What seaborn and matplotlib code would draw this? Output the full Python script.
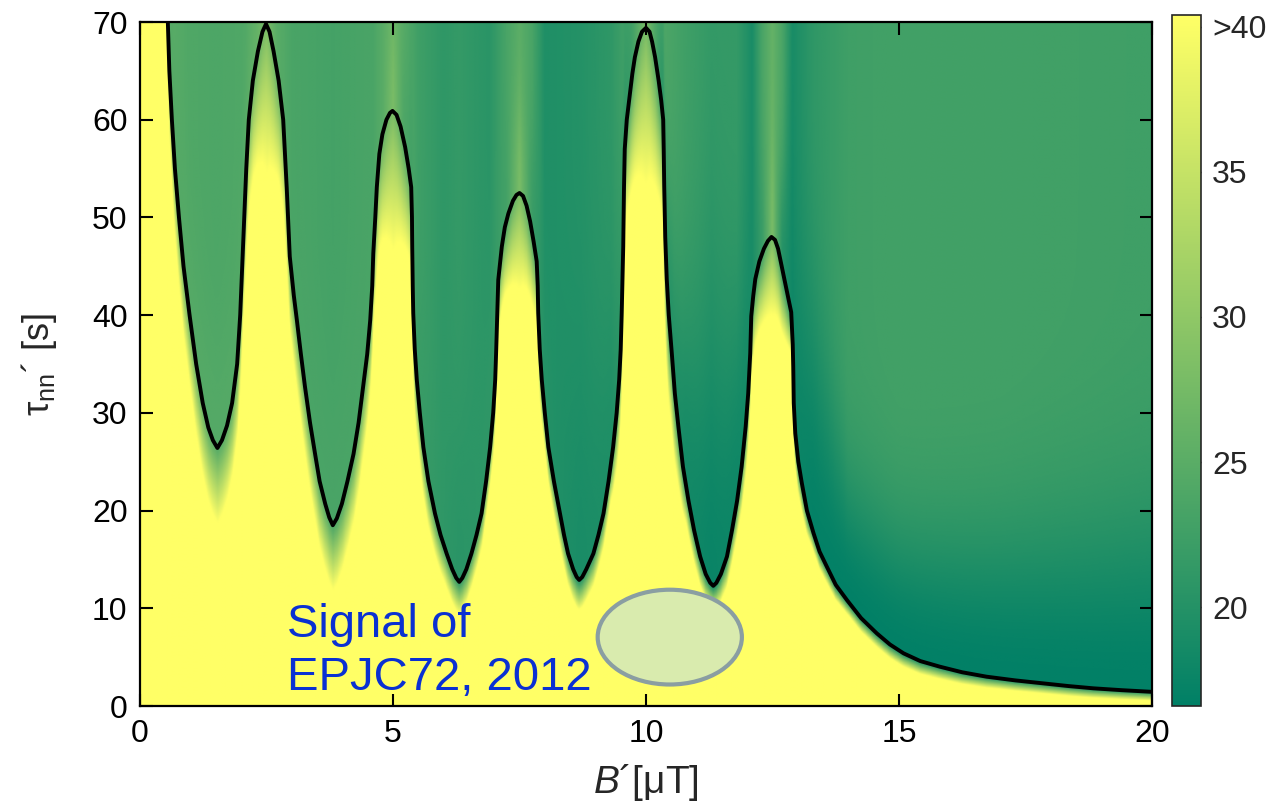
import numpy as np
import matplotlib
matplotlib.use("Agg")
import matplotlib.pyplot as plt
from matplotlib.patches import Ellipse
import seaborn as sns

# %%
# black contour line (B' in uT, tau in s)
edge_b = [0.40, 0.50, 0.55, 0.58, 0.63, 0.69, 0.77, 0.86, 0.98, 1.11,
          1.24, 1.35, 1.44, 1.53, 1.62, 1.72, 1.82, 1.92, 1.98, 2.02,
          2.06, 2.10, 2.15, 2.23, 2.33, 2.42, 2.49, 2.56, 2.64, 2.74,
          2.83, 2.87, 2.90, 2.96, 3.04, 3.10, 3.18, 3.26, 3.36, 3.46,
          3.55, 3.66, 3.74, 3.81, 3.89, 3.99, 4.10, 4.22, 4.32, 4.41,
          4.49, 4.55, 4.59, 4.61, 4.65, 4.68, 4.73, 4.79, 4.87, 4.94,
          4.99, 5.07, 5.15, 5.24, 5.31, 5.36, 5.375, 5.38, 5.39, 5.40,
          5.43, 5.47, 5.53, 5.60, 5.70, 5.83, 5.94, 6.06, 6.17, 6.25,
          6.31, 6.37, 6.45, 6.55, 6.65, 6.75, 6.84, 6.92, 6.98, 7.02,
          7.04, 7.06, 7.08, 7.15, 7.21, 7.28, 7.37, 7.44, 7.50, 7.57,
          7.64, 7.71, 7.78, 7.84, 7.86, 7.87, 7.90, 7.94, 8.00, 8.07,
          8.18, 8.30, 8.38, 8.46, 8.56, 8.63, 8.68, 8.74, 8.82, 8.96,
          9.06, 9.16, 9.26, 9.35, 9.42, 9.47, 9.50, 9.52, 9.55, 9.565,
          9.58, 9.62, 9.68, 9.73, 9.78, 9.85, 9.92, 10.00, 10.07, 10.12,
          10.18, 10.25, 10.30, 10.34, 10.35, 10.36, 10.38, 10.41, 10.45, 10.51,
          10.57, 10.64, 10.73, 10.84, 10.95, 11.07, 11.18, 11.27, 11.33, 11.39,
          11.48, 11.60, 11.70, 11.80, 11.89, 11.97, 12.02, 12.06, 12.08, 12.12,
          12.16, 12.24, 12.33, 12.41, 12.48, 12.55, 12.61, 12.67, 12.76, 12.87,
          12.90, 12.91, 12.92, 12.95, 13.01, 13.08, 13.18, 13.31, 13.43, 13.57,
          13.75, 13.97, 14.25, 14.56, 14.82, 15.09, 15.42, 15.81, 16.25, 16.73,
          17.30, 17.85, 18.35, 18.84, 19.40, 20.00]
edge_tau = [100, 80, 70, 65, 60, 55, 50, 45, 40, 35,
            31, 28.5, 27.2, 26.4, 27.2, 28.7, 31, 35, 40, 45,
            50, 55, 60, 64, 67, 69, 69.8, 69, 67, 64,
            60, 56, 53, 46, 42, 39.5, 36, 32.7, 29, 25.8,
            23, 20.7, 19.3, 18.5, 19.2, 20.7, 23, 25.8, 29, 32.7,
            36, 39.5, 43, 46.3, 50, 53.1, 56.5, 58.5, 60, 60.7,
            60.9, 60.5, 59.3, 57.2, 55, 53.1, 50, 47, 43, 40.2,
            36.5, 33.4, 30, 26.5, 23, 19.7, 17.5, 15.6, 14, 13.1,
            12.7, 13.1, 14, 15.6, 17.5, 19.7, 23, 26.5, 30, 33.4,
            36.5, 40.2, 43.6, 47, 49, 50.4, 51.7, 52.3, 52.5, 52.2,
            51.2, 49.6, 47.5, 45.5, 43, 40.2, 36.5, 33.4, 30, 26.5,
            23, 19.7, 17.5, 15.6, 14, 13.2, 12.9, 13.2, 14, 15.6,
            17.5, 19.7, 23, 26.5, 30, 33.4, 36.5, 40.2, 47, 53,
            57, 60, 62.6, 64.7, 66.4, 68, 69, 69.4, 69, 68,
            66.4, 64, 62, 60, 57, 53.2, 48, 43.7, 40, 36.1,
            32, 28.6, 24.5, 21, 18, 15.3, 13.5, 12.6, 12.3, 12.6,
            13.5, 15.3, 18, 21, 24.5, 28.6, 32, 36.1, 39.9, 42,
            43.7, 45.5, 46.8, 47.6, 48, 47.7, 46.8, 45.3, 43, 40.3,
            37, 34.7, 31, 27.9, 25, 22.8, 20, 17.7, 15.8, 14.3,
            12.4, 10.85, 9, 7.44, 6.3, 5.39, 4.6, 4.02, 3.45, 3.0,
            2.62, 2.32, 2.04, 1.81, 1.62, 1.45]

# colour value per column: far above the line, at the line, and the fall-off lengths
col_b = [0.0, 0.6, 1.0, 1.5, 2.0, 2.3, 2.5, 2.7, 3.0, 3.8,
         4.6, 4.8, 5.0, 5.2, 5.5, 6.0, 6.3, 6.9, 7.25, 7.5,
         7.75, 8.0, 8.7, 9.3, 9.7, 10.0, 10.3, 10.8, 11.3, 11.8,
         12.1, 12.3, 12.5, 12.7, 12.9, 13.3, 14.0, 15.0, 17.0, 20.0]
col_top = [24.5, 25.0, 24.0, 23.8, 24.0, 25.0, 27.0, 25.0, 23.5, 23.0,
           23.5, 25.0, 26.0, 25.0, 22.5, 21.0, 21.5, 20.5, 23.5, 25.0,
           23.5, 19.5, 20.0, 21.0, 23.5, 27.0, 24.0, 22.5, 21.5, 21.5,
           19.0, 23.5, 26.0, 23.5, 19.0, 21.0, 22.5, 22.8, 22.8, 22.5]
col_edge = [24.5, 24.5, 24.5, 24.5, 24.5, 26.0, 28.0, 25.0, 23.5, 23.5,
            23.5, 25.0, 28.0, 24.0, 22.0, 21.0, 20.5, 21.0, 23.0, 28.0,
            22.0, 20.0, 19.0, 19.5, 22.0, 28.0, 21.0, 18.5, 17.5, 18.0,
            19.0, 22.0, 28.0, 20.0, 18.0, 17.0, 16.8, 16.8, 16.8, 16.8]
col_rise = [12, 12, 12, 12, 12, 10, 10, 10, 15, 15,
            15, 10, 10, 10, 15, 15, 20, 20, 10, 10,
            10, 20, 25, 20, 10, 10, 10, 20, 30, 20,
            15, 10, 10, 10, 20, 22, 13, 13, 15, 18]
col_fade = [7, 8, 8, 8.5, 8, 12, 17, 12, 8, 7.3,
            8, 12, 16, 12, 6, 4, 3.6, 4, 8, 11,
            8, 4, 3.3, 4, 12, 18, 12, 4, 2.5, 4,
            7, 8, 9, 7, 4, 2, 1.5, 1.5, 1.2, 1.0]

cbar_ticks = [20, 25, 30, 35, 40]
cbar_labels = ["20", "25", "30", "35", ">40"]

# %%
bb = np.linspace(0, 20, 1200)
tt = np.linspace(0, 70, 900)
B, T = np.meshgrid(bb, tt)
h = np.interp(bb, edge_b, edge_tau)[None, :]
top = np.interp(bb, col_b, col_top)[None, :]
edge = np.interp(bb, col_b, col_edge)[None, :]
rise = np.interp(bb, col_b, col_rise)[None, :]
fade = np.interp(bb, col_b, col_fade)[None, :]

d = T - h
above = top + (edge - top) * np.exp(-(np.clip(d, 0, None) / rise) ** 2)
below = edge + (42 - edge) * np.clip(-d / fade, 0, 1)
Z = np.where(d >= 0, above, below)

# %%
sns.set_style("ticks")
plt.rcParams["font.family"] = ["Liberation Sans", "DejaVu Sans"]
plt.rcParams["mathtext.fontset"] = "custom"
plt.rcParams["mathtext.rm"] = "Liberation Sans"
plt.rcParams["mathtext.it"] = "Liberation Sans:italic"

fig = plt.figure(figsize=(12.76, 8.08), dpi=100)
ax = fig.add_axes([140 / 1276, 1 - 706 / 808, 1012 / 1276, 684 / 808])
cax = fig.add_axes([1172 / 1276, 1 - 706 / 808, 29 / 1276, 691 / 808])

im = ax.imshow(Z, origin="lower", extent=[0, 20, 0, 70], aspect="auto",
               cmap="summer", vmin=16.6, vmax=40.4, interpolation="bilinear")

sns.lineplot(x=edge_b, y=edge_tau, sort=False, estimator=None, color="black",
             linewidth=2.8, ax=ax)
for ln in ax.lines:
    ln.set_solid_joinstyle("round")

ax.add_patch(Ellipse((10.47, 7.05), 2.85, 9.7, facecolor="#d9ebae",
                     edgecolor="#8a9ea2", linewidth=3, zorder=5))
ax.text(2.9, 7.06, "Signal of", color="#0a30d2", fontsize=34, va="baseline", zorder=6)
ax.text(2.9, 1.64, "EPJC72, 2012", color="#0a30d2", fontsize=34, va="baseline", zorder=6)

ax.set_xlim(0, 20)
ax.set_ylim(0, 70)
ax.set_xticks([0, 5, 10, 15, 20])
ax.set_yticks(range(0, 71, 10))
ax.tick_params(direction="in", length=9, width=1.5, top=True, right=True,
               labelsize=23, pad=9, colors="black")
for s in ax.spines.values():
    s.set_linewidth(1.6)
    s.set_color("black")
    s.set_zorder(10)
ax.set_xlabel(r"$B$´[μT]", fontsize=28, labelpad=10)
ax.set_ylabel(r"τ$_{\mathrm{nn}}$´ [s]", fontsize=26, labelpad=24)

cb = fig.colorbar(im, cax=cax)
cb.set_ticks(cbar_ticks)
cb.set_ticklabels(cbar_labels)
cb.outline.set_linewidth(1.2)
cax.tick_params(direction="in", length=5, width=1, left=True, right=True,
                labelsize=23, pad=8)

fig.savefig("out.png", dpi=100)
